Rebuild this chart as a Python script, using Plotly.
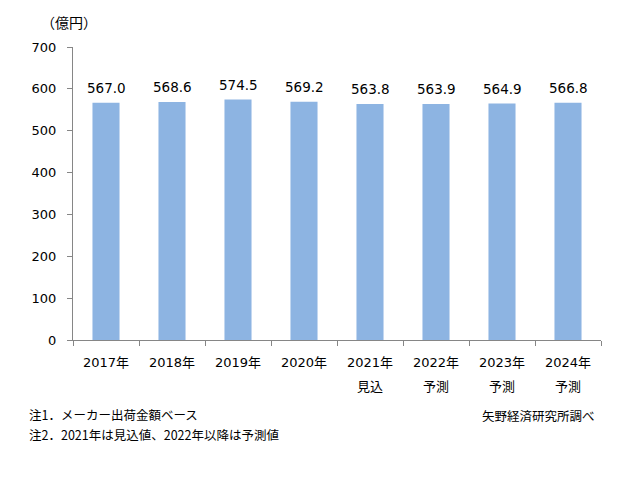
import plotly.graph_objects as go

years = ["2017年", "2018年", "2019年", "2020年", "2021年", "2022年", "2023年", "2024年"]
year_notes = ["", "", "", "", "見込", "予測", "予測", "予測"]
values = [567.0, 568.6, 574.5, 569.2, 563.8, 563.9, 564.9, 566.8]
y_ticks = [0, 100, 200, 300, 400, 500, 600, 700]

font_main = "DejaVu Sans, Noto Sans CJK JP, sans-serif"
font_jp = "Noto Sans CJK JP, sans-serif"
axis_col = "#868686"

fig = go.Figure()
fig.add_trace(go.Bar(
    x=years, y=values,
    marker=dict(color="#8DB4E2", line=dict(width=0)),
))

# value labels above bars
for yr, v in zip(years, values):
    fig.add_annotation(x=yr, y=v, text=f"{v:.1f}", showarrow=False,
                       yanchor="middle", yshift=15,
                       font=dict(size=13.5, family=font_main, color="#000000"))

# second line under the year labels
for yr, note in zip(years, year_notes):
    if note:
        fig.add_annotation(x=yr, y=-0.154, xref="x", yref="paper", text=note,
                           showarrow=False, yanchor="middle",
                           font=dict(size=13, family=font_jp, color="#000000"))

fig.update_layout(
    width=628, height=489,
    margin=dict(l=65, r=35, t=39, b=157),
    paper_bgcolor="white", plot_bgcolor="white",
    bargap=0.59,
    showlegend=False,
    font=dict(family=font_main, size=13, color="#000000"),
)
fig.update_xaxes(
    type="category",
    showline=True, linecolor=axis_col, linewidth=1,
    ticks="outside", tickson="boundaries", ticklen=5, tickcolor=axis_col,
    tickfont=dict(size=13, family=font_main),
    ticklabelstandoff=10,
    showgrid=False,
)
fig.update_yaxes(
    range=[0, 700], tickvals=y_ticks,
    showline=True, linecolor=axis_col, linewidth=1,
    ticks="outside", ticklen=5, tickcolor=axis_col,
    tickfont=dict(size=13, family=font_main),
    ticklabelstandoff=8,
    showgrid=False, zeroline=False,
)

fig.add_annotation(text="（億円）", xref="paper", yref="paper", x=-0.008, y=1.085,
                   xanchor="center", yanchor="middle", showarrow=False,
                   font=dict(size=14, family=font_jp))
fig.add_annotation(text="注1．メーカー出荷金額ベース", xref="paper", yref="paper", x=-0.087, y=-0.253,
                   xanchor="left", yanchor="middle", showarrow=False,
                   font=dict(size=12.5, family=font_jp))
fig.add_annotation(text="注2．2021年は見込値、2022年以降は予測値", xref="paper", yref="paper", x=-0.087, y=-0.322,
                   xanchor="left", yanchor="middle", showarrow=False,
                   font=dict(size=12.5, family=font_jp))
fig.add_annotation(text="矢野経済研究所調べ", xref="paper", yref="paper", x=0.992, y=-0.256,
                   xanchor="right", yanchor="middle", showarrow=False,
                   font=dict(size=12.5, family=font_jp))

fig.write_html("out.html")
